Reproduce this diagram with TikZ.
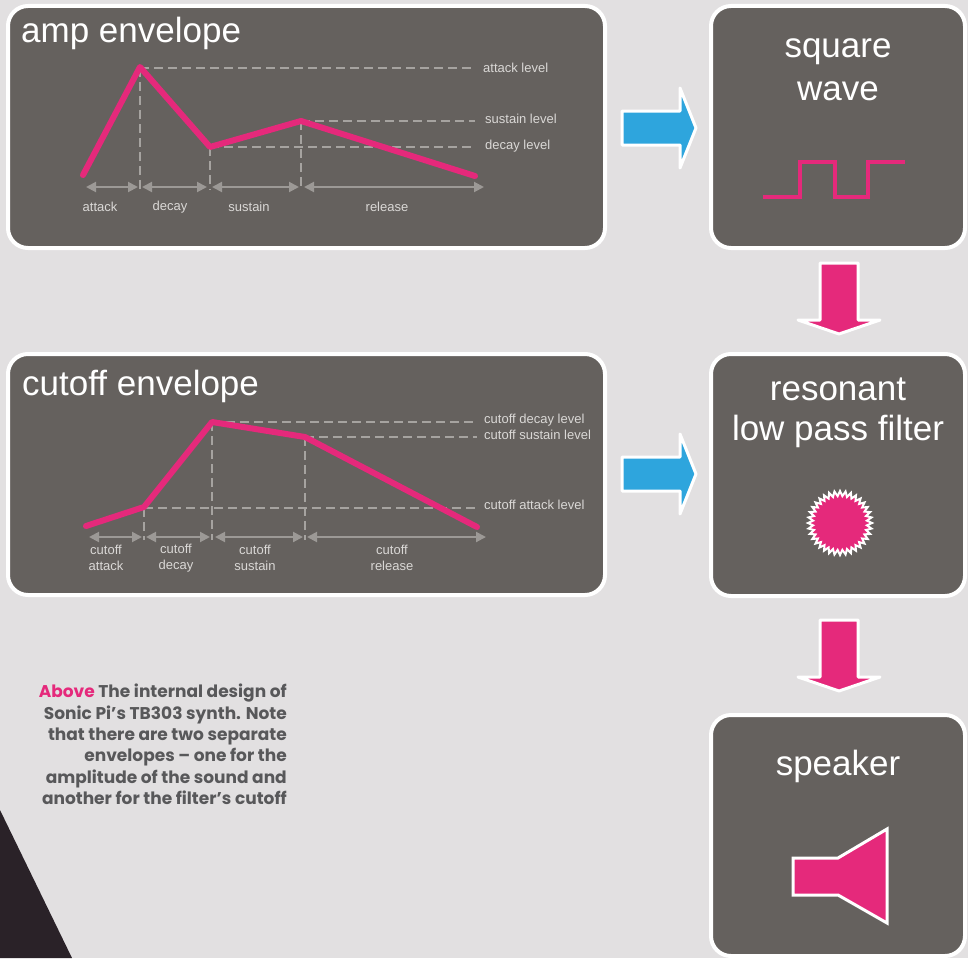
\documentclass[tikz,border=0pt]{standalone}
\usepackage{fontspec}
\setmainfont{Liberation Sans}
\newfontfamily\capfont{Poppins}
\usetikzlibrary{arrows.meta}
\definecolor{bg}{HTML}{E2E0E1}
\definecolor{boxc}{HTML}{65615E}
\definecolor{pinkc}{HTML}{E5297B}
\definecolor{bluec}{HTML}{2EA5DD}
\definecolor{dashc}{HTML}{A6A3A0}
\definecolor{arrc}{HTML}{9C9996}
\definecolor{lblc}{HTML}{DAD8D6}
\definecolor{capc}{HTML}{58585A}
\definecolor{darkc}{HTML}{2A2228}
\begin{document}
\begin{tikzpicture}[x=1pt,y=-1pt,
  box/.style={draw=white, line width=4pt, fill=boxc, rounded corners=20pt, inner sep=0pt},
  title/.style={text=white, font=\fontsize{35}{42}\selectfont, inner sep=0pt},
  lbl/.style={text=lblc, font=\fontsize{13}{16}\selectfont, inner sep=0pt, align=center},
  env/.style={draw=pinkc, line width=6pt, line join=round, line cap=round},
  dsh/.style={draw=dashc, line width=2pt, dash pattern=on 9pt off 5pt},
  dim/.style={draw=arrc, line width=2pt, {Triangle[length=10pt,width=10pt]}-{Triangle[length=10pt,width=10pt]}},
  barrow/.style={fill=bluec, draw=white, line width=3pt, line join=round},
  parrow/.style={fill=pinkc, draw=white, line width=3pt, line join=round},
  rarr/.pic={\draw[barrow] (-37,-17) -- (21,-17) -- (21,-40) -- (37,0) -- (21,40) -- (21,17) -- (-37,17) -- cycle;},
  darr/.pic={\draw[parrow] (-19,-35) -- (19,-35) -- (19,22) -- (41,22) -- (0,36) -- (-41,22) -- (-19,22) -- cycle;}
]
\fill[bg] (0,0) rectangle (968,958);
\useasboundingbox (0,0) rectangle (968,958);
\fill[darkc] (0,810) -- (72,958) -- (0,958) -- cycle;

% boxes
\node[box, minimum width=597pt, minimum height=242pt] (amp) at (306.5,127) {};
\node[box, minimum width=597pt, minimum height=241pt] (cut) at (306.5,474.5) {};
\node[box, minimum width=254pt, minimum height=242pt] (sq) at (838,127) {};
\node[box, minimum width=254pt, minimum height=242pt] (flt) at (838,475) {};
\node[box, minimum width=254pt, minimum height=241pt] (spk) at (838,835.5) {};

% connectors
\pic at (659,128) {rarr};
\pic at (659,474) {rarr};
\pic at (839,298) {darr};
\pic at (839,655) {darr};

% titles
\node[title, anchor=base west] (ampT) at (21,43) {amp envelope};
\node[title, anchor=base west] (cutT) at (22,395) {cutoff envelope};
\node[title, anchor=base] (sqT1) at (838,57) {square};
\node[title, anchor=base] (sqT2) at (838,100) {wave};
\node[title, anchor=base] (fT1) at (838,400) {resonant};
\node[title, anchor=base] (fT2) at (838,440) {low pass filter};
\node[title, anchor=base] (sT) at (838,775) {speaker};

% amp envelope
\coordinate (a0) at (83,175);
\coordinate (a1) at (140,67);
\coordinate (a2) at (210,147);
\coordinate (a3) at (301,121);
\coordinate (a4) at (475,176);
\draw[dsh] (140,68) -- (475,68);
\draw[dsh] (301,121) -- (475,121);
\draw[dsh] (210,147) -- (475,147);
\draw[dsh] (140,68) -- (140,190);
\draw[dsh] (210,147) -- (210,190);
\draw[dsh] (301,121) -- (301,190);
\draw[env] (a0) -- (a1) -- (a2) -- (a3) -- (a4);
\draw[dim] (86,187) -- (138,187);
\draw[dim] (142,187) -- (207,187);
\draw[dim] (212,187) -- (299,187);
\draw[dim] (304,187) -- (484,187);
\node[lbl, anchor=west] (lA) at (483,68) {attack level};
\node[lbl, anchor=west] (lS) at (485,119) {sustain level};
\node[lbl, anchor=west] (lD) at (485,146) {decay level};
\node[lbl] (xA) at (100,207) {attack};
\node[lbl] (xD) at (170,207) {decay};
\node[lbl] (xS) at (249,207) {sustain};
\node[lbl] (xR) at (387,207) {release};

% cutoff envelope
\coordinate (c0) at (86,526);
\coordinate (c1) at (144,507);
\coordinate (c2) at (212,422);
\coordinate (c3) at (305,437);
\coordinate (c4) at (477,527);
\draw[dsh] (212,422) -- (477,422);
\draw[dsh] (305,437) -- (477,437);
\draw[dsh] (144,508) -- (477,508);
\draw[dsh] (144,508) -- (144,540);
\draw[dsh] (212,422) -- (212,540);
\draw[dsh] (305,437) -- (305,540);
\draw[env] (c0) -- (c1) -- (c2) -- (c3) -- (c4);
\draw[dim] (89,537) -- (142,537);
\draw[dim] (146,537) -- (210,537);
\draw[dim] (215,537) -- (303,537);
\draw[dim] (307,537) -- (486,537);
\node[lbl, anchor=west] (lcD) at (484,420) {cutoff decay level};
\node[lbl, anchor=west] (lcS) at (484,435) {cutoff sustain level};
\node[lbl, anchor=west] (lcA) at (484,505) {cutoff attack level};
\node[lbl] (xcA) at (106,558) {cutoff\\attack};
\node[lbl] (xcD) at (176,558) {cutoff\\decay};
\node[lbl] (xcS) at (255,558) {cutoff\\sustain};
\node[lbl] (xcR) at (392,558) {cutoff\\release};

% square wave
\draw[pinkc, line width=3.5pt] (763,197) -- (800,197) -- (800,162) -- (835,162) -- (835,197) -- (868,197) -- (868,162) -- (905,162);

% filter starburst
\draw[white, line width=2pt, fill=pinkc, line join=miter]
  plot[samples=72, domain=0:71, variable=\i]
  ({840+(29.5+2.5*cos(\i*180))*cos(\i*5)}, {523+(29.5+2.5*cos(\i*180))*sin(\i*5)}) -- cycle;

% speaker icon
\draw[parrow, line join=miter] (793,858) -- (838,858) -- (887,829) -- (887,923) -- (838,895) -- (793,895) -- cycle;

% caption
\node[anchor=north east, align=right, text=capc, inner sep=0pt,
  font=\capfont\bfseries\fontsize{17}{21.3}\selectfont] (cap) at (287,684)
  {\textcolor{pinkc}{Above} The internal design of\\
   Sonic Pi’s TB303 synth. Note\\
   that there are two separate\\
   envelopes – one for the\\
   amplitude of the sound and\\
   another for the filter’s cutoff};
\end{tikzpicture}
\end{document}
